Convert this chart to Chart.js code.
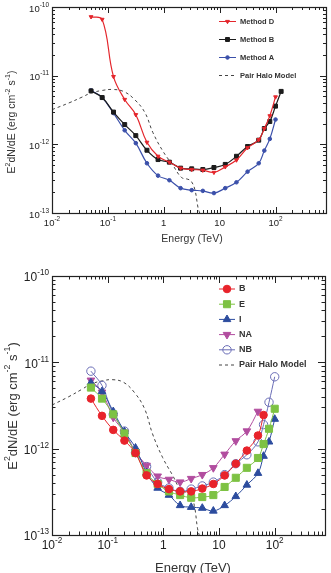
<!DOCTYPE html>
<html>
<head>
<meta charset="utf-8">
<script src="https://cdn.jsdelivr.net/npm/chart.js@4.4.0/dist/chart.umd.min.js"></script>
<style>
  body { margin: 0; background: #fff; }
  canvas { display: block; }
</style>
</head>
<body>
<canvas id="topChart" width="331" height="250"></canvas>
<canvas id="bottomChart" width="331" height="323"></canvas>
<script>
// energies (TeV) shared by all the measured series
const energy = [0.05, 0.079, 0.126, 0.2, 0.316, 0.5, 0.79, 1.26, 2, 3.16, 5, 7.9, 12.6, 20, 31.6, 50, 63, 79, 100, 126];

// top panel
const methodD = [7.2e-11, 6.6e-11, 9.7e-12, 4.5e-12, 2.7e-12, 1.07e-12, 6.7e-13, 5.5e-13, 4.5e-13, 4.3e-13, 4.2e-13, 3.9e-13, 4.7e-13, 5.9e-13, 8.9e-13, 1.17e-12, 1.7e-12, 2.6e-12, 4.9e-12];
const methodB = [6.0e-12, 4.8e-12, 2.95e-12, 1.94e-12, 1.34e-12, 8.2e-13, 6.0e-13, 5.5e-13, 4.5e-13, 4.4e-13, 4.3e-13, 4.6e-13, 5.1e-13, 6.7e-13, 9.3e-13, 1.15e-12, 1.7e-12, 2.15e-12, 3.6e-12, 5.9e-12];
const methodA = [6.1e-12, 4.8e-12, 2.85e-12, 1.6e-12, 1.04e-12, 5.3e-13, 3.5e-13, 3.0e-13, 2.3e-13, 2.15e-13, 2.1e-13, 1.95e-13, 2.3e-13, 2.8e-13, 4.0e-13, 5.3e-13, 8.1e-13, 1.2e-12, 2.3e-12];

// bottom panel
const seriesB = [3.8e-12, 2.4e-12, 1.65e-12, 1.24e-12, 8.9e-13, 4.9e-13, 3.9e-13, 3.4e-13, 3.2e-13, 3.2e-13, 3.45e-13, 3.9e-13, 4.9e-13, 6.7e-13, 9.5e-13, 1.42e-12, 2.45e-12];
const seriesE = [5.1e-12, 3.8e-12, 2.5e-12, 1.5e-12, 8.9e-13, 5.2e-13, 3.9e-13, 3.2e-13, 2.9e-13, 2.7e-13, 2.75e-13, 2.9e-13, 3.6e-13, 4.6e-13, 6.0e-13, 7.8e-13, 1.13e-12, 1.7e-12, 2.9e-12];
const seriesI = [5.8e-12, 4.6e-12, 2.7e-12, 1.58e-12, 1.02e-12, 5.3e-13, 3.5e-13, 2.9e-13, 2.2e-13, 2.1e-13, 2.05e-13, 1.9e-13, 2.2e-13, 2.8e-13, 3.8e-13, 5.2e-13, 8.2e-13, 1.2e-12, 2.2e-12];
const seriesNA = [6.2e-12, 4.5e-12, 2.3e-12, 1.55e-12, 9.2e-13, 6.4e-13, 4.8e-13, 4.4e-13, 4.1e-13, 4.5e-13, 5.0e-13, 6.0e-13, 8.6e-13, 1.23e-12, 1.6e-12, 2.7e-12];
const seriesNB = [7.9e-12, 5.4e-12, 2.5e-12, 1.6e-12, 9.0e-13, 6.2e-13, 4.1e-13, 3.5e-13, 3.2e-13, 3.4e-13, 3.7e-13, 4.1e-13, 5.0e-13, 6.7e-13, 8.5e-13, 1.2e-12, 1.9e-12, 3.45e-12, 6.8e-12];

// pair halo model curve (both panels)
const haloEnergy = [0.01, 0.02, 0.035, 0.05, 0.08, 0.12, 0.19, 0.3, 0.46, 0.64, 0.97, 1.47, 2.07, 2.7, 3.1, 3.6, 4.1, 4.4];
const haloFlux = [3.2e-12, 4.0e-12, 4.9e-12, 5.6e-12, 6.1e-12, 6.3e-12, 5.9e-12, 4.5e-12, 2.9e-12, 1.48e-12, 7.9e-13, 4.9e-13, 3.3e-13, 3.1e-13, 2.9e-13, 2.2e-13, 1.2e-13, 1.0e-13];

// axis ticks
const xTicks = [0.01, 0.1, 1, 10, 100];
const xTickLabels = [['10', '-2'], ['10', '-1'], ['1', ''], ['10', ''], ['10', '2']];
const yTicks = [1e-13, 1e-12, 1e-11, 1e-10];
const yTickLabels = [['10', '-13'], ['10', '-12'], ['10', '-11'], ['10', '-10']];

const X_MIN = 0.01, X_MAX = 800, Y_MIN = 1e-13, Y_MAX = 1e-10;
const FONT = '"Liberation Sans", Arial, Helvetica, sans-serif';

function pts(xs, ys) {
  return ys.map((y, i) => ({ x: xs[i], y: y }));
}

function series(label, data, color, style, radius, extra) {
  return Object.assign({
    label: label,
    data: pts(energy, data),
    borderColor: color,
    backgroundColor: color,
    borderWidth: 1,
    pointStyle: style,
    pointRadius: radius,
    pointBorderWidth: 1,
    pointBackgroundColor: color,
    pointBorderColor: color,
    tension: 0.4
  }, extra || {});
}

function halo() {
  return {
    label: 'Pair Halo Model',
    data: pts(haloEnergy, haloFlux),
    borderColor: '#444',
    borderWidth: 1,
    borderDash: [3, 3],
    pointRadius: 0,
    tension: 0.4
  };
}

// text with an optional superscript part
function drawParts(ctx, parts, x, y, size, align) {
  const sup = size * 0.68;
  let w = 0;
  parts.forEach(p => {
    ctx.font = (p[1] ? sup : size) + 'px ' + FONT;
    w += ctx.measureText(p[0]).width;
  });
  let cx = align === 'center' ? x - w / 2 : align === 'right' ? x - w : x;
  ctx.textAlign = 'left';
  ctx.textBaseline = 'middle';
  parts.forEach(p => {
    ctx.font = (p[1] ? sup : size) + 'px ' + FONT;
    ctx.fillText(p[0], cx, p[1] ? y - size * 0.42 : y);
    cx += ctx.measureText(p[0]).width;
  });
}

function axesPlugin(st) {
  return {
    id: 'axesFrame',
    afterDraw(chart) {
      const ctx = chart.ctx, a = chart.chartArea;
      const xs = chart.scales.x, ys = chart.scales.y;
      ctx.save();
      ctx.strokeStyle = '#222';
      ctx.lineWidth = 1.2;
      ctx.strokeRect(a.left + 0.5, a.top + 0.5, a.right - a.left, a.bottom - a.top);

      ctx.lineWidth = 1;
      ctx.beginPath();
      for (let d = -2; d <= 3; d++) {
        for (let m = 1; m <= 9; m++) {
          const v = m * Math.pow(10, d);
          if (v < X_MIN || v > X_MAX) continue;
          const px = Math.round(xs.getPixelForValue(v)) + 0.5;
          const len = m === 1 ? st.major : st.minor;
          ctx.moveTo(px, a.bottom); ctx.lineTo(px, a.bottom - len);
          ctx.moveTo(px, a.top); ctx.lineTo(px, a.top + len);
        }
      }
      for (let d = -13; d <= -10; d++) {
        for (let m = 1; m <= 9; m++) {
          const v = m * Math.pow(10, d);
          if (v < Y_MIN * 0.999 || v > Y_MAX * 1.001) continue;
          const py = Math.round(ys.getPixelForValue(v)) + 0.5;
          const len = m === 1 ? st.major : st.minor;
          ctx.moveTo(a.left, py); ctx.lineTo(a.left + len, py);
          ctx.moveTo(a.right, py); ctx.lineTo(a.right - len, py);
        }
      }
      ctx.stroke();

      // tick labels
      ctx.fillStyle = '#222';
      xTicks.forEach((v, i) => {
        const l = xTickLabels[i];
        drawParts(ctx, [[l[0], 0], [l[1], 1]], xs.getPixelForValue(v), a.bottom + st.xLabelGap, st.tick, 'center');
      });
      yTicks.forEach((v, i) => {
        const l = yTickLabels[i];
        drawParts(ctx, [[l[0], 0], [l[1], 1]], a.left - 3, ys.getPixelForValue(v) + 2, st.tick, 'right');
      });

      // axis titles
      ctx.fillStyle = '#333';
      drawParts(ctx, [['Energy (TeV)', 0]], st.xTitle[0], st.xTitle[1], st.title, 'center');
      ctx.save();
      ctx.translate(st.yTitle[0], st.yTitle[1]);
      ctx.rotate(-Math.PI / 2);
      drawParts(ctx, [['E', 0], ['2', 1], ['dN/dE (erg cm', 0], ['-2', 1], [' s', 0], ['-1', 1], [')', 0]], 0, 0, st.title, 'center');
      ctx.restore();

      // legend
      chart.data.datasets.forEach((ds, i) => {
        const y = st.legend.y0 + i * st.legend.dy;
        ctx.save();
        ctx.strokeStyle = ds.borderColor;
        ctx.lineWidth = 1;
        ctx.setLineDash(ds.borderDash || []);
        ctx.beginPath();
        ctx.moveTo(st.legend.x1, y); ctx.lineTo(st.legend.x2, y);
        ctx.stroke();
        ctx.setLineDash([]);
        if (ds.pointRadius > 0) {
          ctx.fillStyle = ds.pointBackgroundColor;
          ctx.strokeStyle = ds.pointBorderColor;
          Chart.helpers.drawPoint(ctx, {
            pointStyle: ds.pointStyle, radius: ds.pointRadius,
            rotation: ds.pointRotation || 0, borderWidth: 1
          }, (st.legend.x1 + st.legend.x2) / 2, y);
        }
        ctx.restore();
        ctx.fillStyle = '#333';
        ctx.font = 'bold ' + st.legend.size + 'px ' + FONT;
        ctx.textAlign = 'left';
        ctx.textBaseline = 'middle';
        ctx.fillText(ds.label, st.legend.x2 + 4, y);
      });
      ctx.restore();
    }
  };
}

function makeChart(id, datasets, padding, st) {
  return new Chart(document.getElementById(id), {
    type: 'line',
    data: { datasets: datasets },
    options: {
      responsive: false,
      animation: false,
      layout: { padding: padding },
      plugins: { legend: { display: false }, tooltip: { enabled: false } },
      scales: {
        x: { type: 'logarithmic', display: false, min: X_MIN, max: X_MAX },
        y: { type: 'logarithmic', display: false, min: Y_MIN, max: Y_MAX }
      }
    },
    plugins: [axesPlugin(st)]
  });
}

makeChart('topChart', [
  series('Method D', methodD, '#e4262c', 'triangle', 2.2, { pointRotation: 180, borderWidth: 1.2 }),
  series('Method B', methodB, '#1c1c1c', 'rect', 2.8, { borderWidth: 1.2 }),
  series('Method A', methodA, '#3b50aa', 'circle', 1.8, { borderWidth: 1.2 }),
  halo()
], { left: 52, top: 7, right: 5, bottom: 37 }, {
  major: 6, minor: 3, tick: 9.5, title: 10.5, xLabelGap: 10,
  xTitle: [192, 239], yTitle: [12, 122],
  legend: { x1: 219, x2: 236, y0: 21.5, dy: 18, size: 7.5 }
});

makeChart('bottomChart', [
  series('B', seriesB, '#e8232b', 'circle', 3.8),
  series('E', seriesE, '#7dc243', 'rect', 5),
  series('I', seriesI, '#2c4c9e', 'triangle', 4.4),
  series('NA', seriesNA, '#b24d9f', 'triangle', 4.4, { pointRotation: 180 }),
  series('NB', seriesNB, '#6a6db6', 'circle', 4.2, { pointBackgroundColor: 'rgba(255,255,255,0)' }),
  halo()
], { left: 52, top: 26, right: 5, bottom: 38 }, {
  major: 7, minor: 3.5, tick: 12, title: 13, xLabelGap: 11,
  xTitle: [193, 318], yTitle: [13, 156],
  legend: { x1: 219, x2: 235, y0: 39, dy: 15.2, size: 9 }
});
</script>
</body>
</html>
